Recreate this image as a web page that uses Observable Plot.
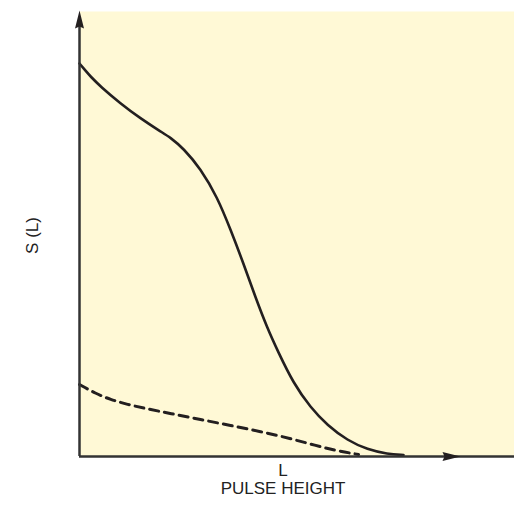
<!DOCTYPE html>
<html>
<head>
<meta charset="utf-8">
<script src="https://cdn.jsdelivr.net/npm/d3@7"></script>
<script src="https://cdn.jsdelivr.net/npm/@observablehq/plot@0.6"></script>
<style>
  html, body { margin: 0; padding: 0; background: #ffffff; }
  #chart { width: 514px; height: 512px; }
</style>
</head>
<body>
<div id="chart"></div>
<script>
// Pulse height L (arbitrary units) and S(L) (arbitrary units)
const solidL = [0, 5, 11, 21, 41, 61, 81, 91, 104, 121, 138, 151, 164, 176, 188, 198, 214, 231, 248, 268, 288, 308, 324];
const solidS = [393, 387, 380, 370, 353, 338, 325, 319, 308, 288, 259, 227, 193, 159, 128, 106, 73, 49, 31, 16, 7, 2.5, 1.5];
const dashedL = [0, 16, 31, 48, 66, 91, 121, 151, 181, 211, 236, 256, 279];
const dashedS = [72, 63, 57, 52, 48, 43, 37, 31, 25, 18, 11, 6, 2];
const xMax = 435, yMax = 446, xArrowAt = 381;
const yLabel = "S (L)";
const xLabel = "L\nPULSE HEIGHT";

const solid = solidL.map((l, i) => ({l, s: solidS[i]}));
const dashed = dashedL.map((l, i) => ({l, s: dashedS[i]}));

const ink = "#231f20";
const upHead = {draw(ctx) { ctx.moveTo(0, 0); ctx.lineTo(-4.5, 18); ctx.lineTo(0, 16); ctx.lineTo(4.5, 18); ctx.closePath(); }};
const rightHead = {draw(ctx) { ctx.moveTo(0, 0); ctx.lineTo(-18, -4.5); ctx.lineTo(-16, 0); ctx.lineTo(-18, 4.5); ctx.closePath(); }};

const chart = Plot.plot({
  width: 514,
  height: 512,
  marginLeft: 79,
  marginRight: 0,
  marginTop: 10,
  marginBottom: 56,
  style: {background: "#ffffff", fontFamily: "Liberation Sans, Arial, sans-serif"},
  x: {domain: [0, xMax], axis: null},
  y: {domain: [0, yMax], axis: null},
  marks: [
    Plot.frame({fill: "#fff9d6", stroke: "none", insetTop: 1}),
    Plot.line(solid, {x: "l", y: "s", stroke: ink, strokeWidth: 2.6, curve: "basis"}),
    Plot.line(dashed, {x: "l", y: "s", stroke: ink, strokeWidth: 3, strokeDasharray: "9,6", curve: "basis"}),
    Plot.ruleX([0], {y1: 0, y2: yMax - 8, stroke: "#333", strokeWidth: 2.5}),
    Plot.ruleY([0], {x1: 0, x2: xMax, stroke: "#333", strokeWidth: 2.5}),
    Plot.dot([{l: 0, s: yMax}], {x: "l", y: "s", symbol: upHead, fill: ink, stroke: "none", r: 5}),
    Plot.dot([{l: xArrowAt, s: 0}], {x: "l", y: "s", symbol: rightHead, fill: ink, stroke: "none", r: 5}),
    Plot.text([yLabel], {text: d => d, frameAnchor: "left", dx: -47, dy: 2, rotate: -90, textAnchor: "middle", fontSize: 17, fill: "#222"}),
    Plot.text([xLabel], {text: d => d, frameAnchor: "bottom", dx: -14, dy: 6, lineAnchor: "top", textAnchor: "middle", fontSize: 17, lineHeight: 1.1, fill: "#222"})
  ]
});
document.getElementById("chart").append(chart);
</script>
</body>
</html>
